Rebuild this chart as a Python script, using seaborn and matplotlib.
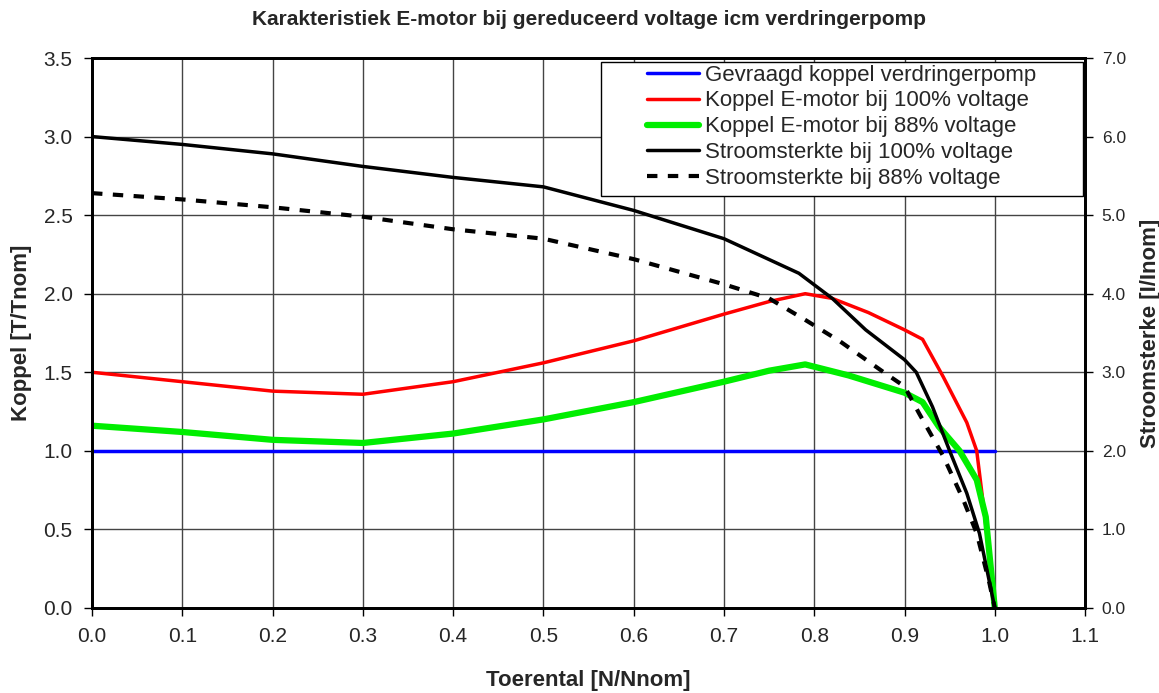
import pandas as pd
import seaborn as sns
import matplotlib.pyplot as plt
from matplotlib.lines import Line2D
from matplotlib.patches import Rectangle

# waarden
x_blauw = [0.0, 1.0]
koppel_pomp = [1.0, 1.0]

x_rood = [0, 0.1, 0.2, 0.3, 0.4, 0.5, 0.6, 0.7, 0.75, 0.79, 0.82, 0.86, 0.9, 0.92, 0.943, 0.969, 0.98, 0.989, 1.0]
koppel_100 = [1.5, 1.44, 1.38, 1.36, 1.44, 1.56, 1.70, 1.87, 1.95, 2.0, 1.97, 1.88, 1.77, 1.71, 1.47, 1.18, 1.0, 0.58, 0.0]

x_groen = [0, 0.1, 0.2, 0.3, 0.4, 0.5, 0.6, 0.7, 0.75, 0.79, 0.838, 0.9, 0.92, 0.938, 0.961, 0.98, 0.99, 1.0]
koppel_88 = [1.16, 1.12, 1.07, 1.05, 1.11, 1.20, 1.31, 1.44, 1.51, 1.55, 1.48, 1.37, 1.31, 1.154, 1.0, 0.815, 0.58, 0.0]

x_stroom100 = [0, 0.1, 0.2, 0.3, 0.4, 0.5, 0.6, 0.7, 0.783, 0.82, 0.857, 0.9, 0.913, 0.931, 0.95, 0.969, 0.983, 1.0]
stroom_100 = [6.0, 5.9, 5.78, 5.62, 5.48, 5.36, 5.06, 4.7, 4.26, 3.94, 3.54, 3.16, 3.0, 2.56, 2.0, 1.46, 0.95, 0.0]

x_stroom88 = [0, 0.1, 0.2, 0.3, 0.4, 0.5, 0.6, 0.7, 0.75, 0.791, 0.829, 0.877, 0.9, 0.916, 0.943, 0.965, 0.98, 0.994, 1.0]
stroom_88 = [5.28, 5.2, 5.1, 4.98, 4.82, 4.7, 4.44, 4.12, 3.94, 3.66, 3.39, 3.0, 2.82, 2.48, 1.93, 1.38, 0.95, 0.32, 0.0]

labels = ['Gevraagd koppel verdringerpomp', 'Koppel E-motor bij 100% voltage',
          'Koppel E-motor bij 88% voltage', 'Stroomsterkte bij 100% voltage',
          'Stroomsterkte bij 88% voltage']

sns.set_style('white')
plt.rcParams['font.family'] = ['Liberation Sans', 'DejaVu Sans']

fig = plt.figure(figsize=(11.59, 6.93), dpi=100)
ax = fig.add_axes([0.0794, 0.1227, 0.8568, 0.7936])
ax2 = ax.twinx()

sns.lineplot(x=x_blauw, y=koppel_pomp, ax=ax, color='#0000ff', lw=2.5, sort=False)
sns.lineplot(x=x_rood, y=koppel_100, ax=ax, color='#ff0000', lw=2.5, sort=False)
sns.lineplot(x=x_groen, y=koppel_88, ax=ax, color='#00ee00', lw=4.5, sort=False)
sns.lineplot(x=x_stroom100, y=stroom_100, ax=ax2, color='black', lw=2.5, sort=False)
sns.lineplot(x=x_stroom88, y=stroom_88, ax=ax2, color='black', lw=3, sort=False,
             dashes=False, linestyle=(0, (2.5, 2.5)))

ax.set_xlim(0, 1.1)
ax.set_ylim(0, 3.5)
ax2.set_ylim(0, 7)
ax.set_xticks([i / 10 for i in range(12)])
ax.set_yticks([i / 2 for i in range(8)])
ax2.set_yticks(range(8))
ax.set_xticklabels([f'{i / 10:.1f}' for i in range(12)], fontsize=15)
ax.set_yticklabels([f'{i / 2:.1f}' for i in range(8)], fontsize=15)
ax2.set_yticklabels([f'{i:.1f}' for i in range(8)], fontsize=12.5)

ax.grid(True, color='#444444', lw=1)
ax.set_axisbelow(True)
for a in (ax, ax2):
    for s in a.spines.values():
        s.set_color('black')
        s.set_linewidth(2)
ax.tick_params(axis='both', direction='out', length=6, width=1, color='black', left=True, bottom=True, pad=8)
ax2.tick_params(axis='y', direction='out', length=6, width=1, color='black', right=True, pad=6)

ax.set_xlabel('Toerental [N/Nnom]', fontsize=16, fontweight='bold', labelpad=17)
ax.set_ylabel('Koppel [T/Tnom]', fontsize=16, fontweight='bold', labelpad=8)
ax2.set_ylabel('Stroomsterke [I/Inom]', fontsize=16, fontweight='bold', labelpad=10)
ax.set_title('Karakteristiek E-motor bij gereduceerd voltage icm verdringerpomp',
             fontsize=15, fontweight='bold', pad=24)

# legendakader los getekend, zoals in het origineel
kader = Rectangle((0.5126, 0.749), 0.4854, 0.2437, transform=ax2.transAxes,
                  facecolor='white', edgecolor='black', lw=1, zorder=5)
ax2.add_patch(kader)

handles = [
    Line2D([], [], color='#0000ff', lw=2.5),
    Line2D([], [], color='#ff0000', lw=2.5),
    Line2D([], [], color='#00ee00', lw=4.5),
    Line2D([], [], color='black', lw=2.5),
    Line2D([], [], color='black', lw=3, linestyle=(0, (2.5, 2.5))),
]
leg = ax2.legend(handles, labels, loc='upper left', bbox_to_anchor=(0.559, 0.988),
                 fontsize=16, frameon=False, handlelength=2.35, labelspacing=0.22,
                 borderpad=0, handletextpad=0.25, borderaxespad=0)
leg.set_zorder(6)

fig.savefig('out.png', dpi=100)
